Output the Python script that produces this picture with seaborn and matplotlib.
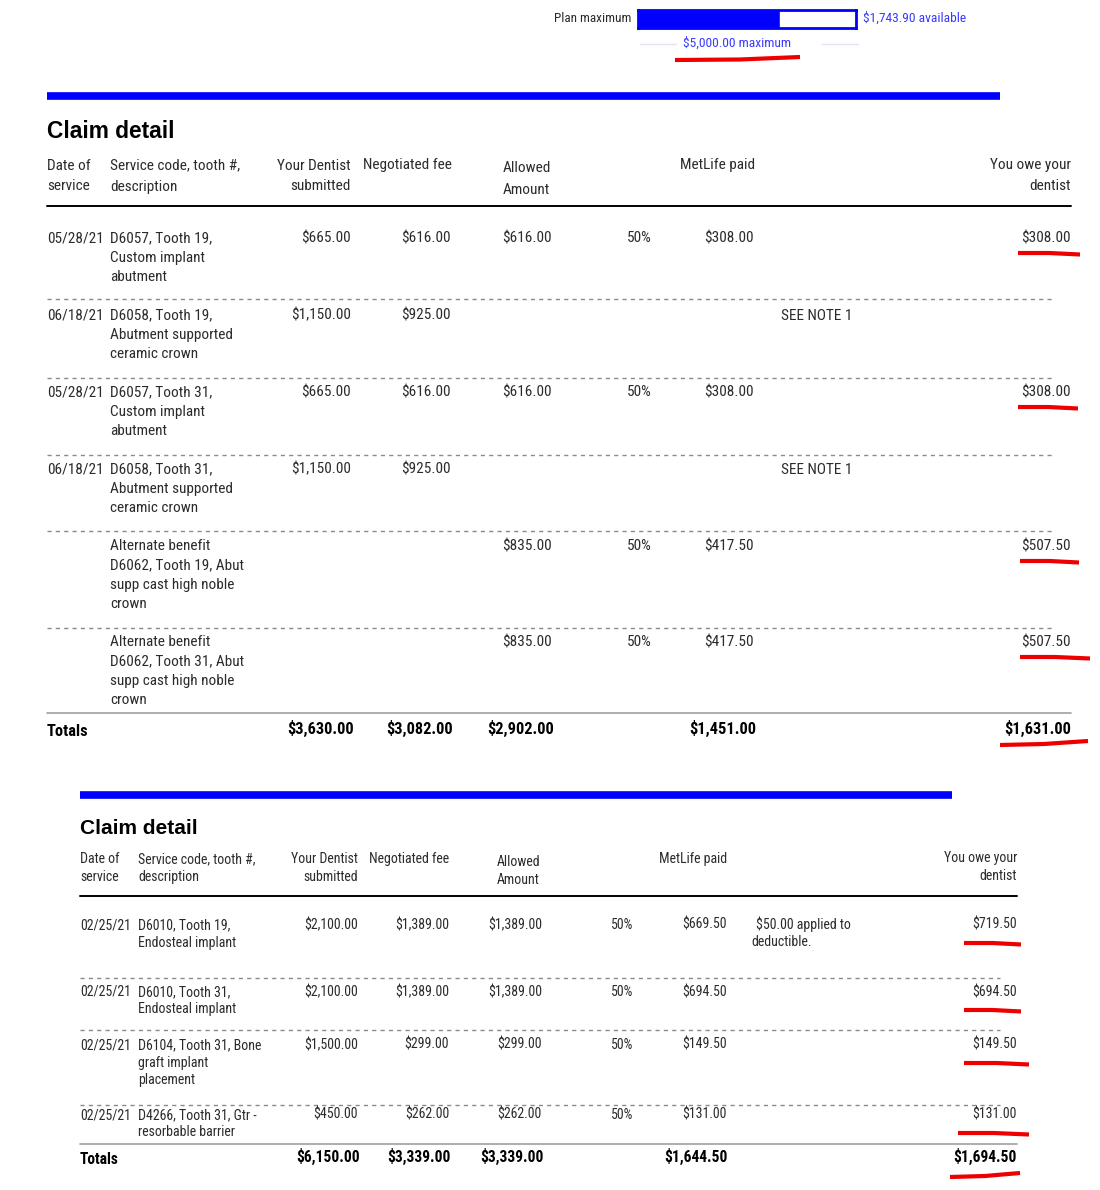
import matplotlib
matplotlib.use("Agg")
import matplotlib.pyplot as plt
import seaborn as sns

# plan maximum summary
plan_max = 5000.00
available = 1743.90

# first claim
dates1 = ["05/28/21", "06/18/21", "05/28/21", "06/18/21", "", ""]
desc1 = ["D6057, Tooth 19,\nCustom implant\nabutment",
         "D6058, Tooth 19,\nAbutment supported\nceramic crown",
         "D6057, Tooth 31,\nCustom implant\nabutment",
         "D6058, Tooth 31,\nAbutment supported\nceramic crown",
         "Alternate benefit\nD6062, Tooth 19, Abut\nsupp cast high noble\ncrown",
         "Alternate benefit\nD6062, Tooth 31, Abut\nsupp cast high noble\ncrown"]
submitted1 = [665.00, 1150.00, 665.00, 1150.00, None, None]
negotiated1 = [616.00, 925.00, 616.00, 925.00, None, None]
allowed1 = [616.00, None, 616.00, None, 835.00, 835.00]
pct1 = [50, None, 50, None, 50, 50]
paid1 = [308.00, None, 308.00, None, 417.50, 417.50]
notes1 = ["", "SEE NOTE 1", "", "SEE NOTE 1", "", ""]
owe1 = [308.00, None, 308.00, None, 507.50, 507.50]
totals1 = [3630.00, 3082.00, 2902.00, 1451.00, 1631.00]

# second claim
dates2 = ["02/25/21", "02/25/21", "02/25/21", "02/25/21"]
desc2 = ["D6010, Tooth 19,\nEndosteal implant",
         "D6010, Tooth 31,\nEndosteal implant",
         "D6104, Tooth 31, Bone\ngraft implant\nplacement",
         "D4266, Tooth 31, Gtr -\nresorbable barrier"]
submitted2 = [2100.00, 2100.00, 1500.00, 450.00]
negotiated2 = [1389.00, 1389.00, 299.00, 262.00]
allowed2 = [1389.00, 1389.00, 299.00, 262.00]
pct2 = [50, 50, 50, 50]
paid2 = [669.50, 694.50, 149.50, 131.00]
notes2 = ["$50.00 applied to\ndeductible.", "", "", ""]
owe2 = [719.50, 694.50, 149.50, 131.00]
totals2 = [6150.00, 3339.00, 3339.00, 1644.50, 1694.50]

headers = ["Date of\nservice", "Service code, tooth #,\ndescription",
           "Your Dentist\nsubmitted", "Negotiated fee", "Allowed\nAmount",
           "MetLife paid", "You owe your\ndentist"]

BLUE = "#0000ff"
TXT = "#2b2b2b"
GRAY = "#8a8a8a"

sns.set_theme(style="white")
plt.rcParams["font.family"] = ["Roboto Condensed", "Liberation Sans Narrow",
                               "Roboto", "DejaVu Sans"]

fig = plt.figure(figsize=(11, 11.9), dpi=100)
ax = fig.add_axes([0, 0, 1, 1])
ax.set_xlim(0, 1100)
ax.set_ylim(1190, 0)
ax.axis("off")


def money(v):
    return "" if v is None else f"${v:,.2f}"


# plan maximum progress bar drawn with seaborn
W, H = 1100, 1190
bx0, bx1, by0, by1 = 638, 856, 10, 28
bar_ax = fig.add_axes([bx0 / W, 1 - by1 / H, (bx1 - bx0) / W, (by1 - by0) / H])
sns.barplot(x=[plan_max - available], y=["used"], orient="h", color=BLUE,
            saturation=1, width=1, ax=bar_ax)
bar_ax.set_xlim(0, plan_max)
bar_ax.set_xticks([])
bar_ax.set_yticks([])
bar_ax.set_xlabel("")
bar_ax.set_ylabel("")
for s in bar_ax.spines.values():
    s.set_visible(True)
    s.set_color(BLUE)
    s.set_linewidth(2)

ax.text(631, 18, "Plan maximum", ha="right", va="center", fontsize=9.5, color=TXT)
ax.text(863, 18, f"${available:,.2f} available", ha="left", va="center",
        fontsize=9.7, color="#3a3aff")
ax.plot([640, 676], [44, 44], color="#e4e4f4", lw=1)
ax.plot([822, 858], [44, 44], color="#e4e4f4", lw=1)
ax.text(737, 43, f"${plan_max:,.2f} maximum", ha="center", va="center",
        fontsize=9.7, color="#3a3aff")
ax.plot([675, 740, 800], [60, 59.5, 57], color="#ee0000", lw=3, solid_capstyle="butt")


def draw_table(L, dates, desc, sub, neg, allw, pct, paid, notes, owe, totals):
    fs, ls, tfs = L["fs"], L["ls"], L["tot_fs"]
    # baseline offset: half the cap height in pixels
    b = fs * 100 / 72 * 0.36

    def put(x, y, s, ha="left", **kw):
        ax.text(x, y + b, s, ha=ha, va="baseline", fontsize=kw.pop("size", fs),
                color=kw.pop("color", TXT), **kw)

    ax.plot([L["rule"][0], L["rule"][1]], [L["rule_y"]] * 2, color=BLUE, lw=5.5,
            solid_capstyle="butt")
    ax.text(L["x_date"], L["title_y"], "Claim detail", fontsize=L["title_fs"],
            fontweight="bold", color="black", va="center", ha="left",
            family=["Liberation Sans", "DejaVu Sans"])

    # header
    hy = L["head_y"]
    hl = L["head_ls"]
    hpos = [(L["x_date"], "left", 0), (L["x_desc"], "left", 0),
            (L["r_sub"], "right", 0), (L["x_neg_h"], "left", 0),
            (L["x_allow_h"], "left", 3), (L["x_paid_h"], "left", 0),
            (L["r_owe"], "right", -1)]
    for text, (x, ha, dy) in zip(headers, hpos):
        for i, line in enumerate(text.split("\n")):
            put(x, hy + dy + i * hl, line, ha=ha)
    ax.plot([L["x_date"], L["r_owe"]], [L["head_line"]] * 2, color="black", lw=1.4)

    # rows
    for r in range(len(desc)):
        y = L["rows"][r]
        put(L["x_date"], y, dates[r])
        for i, line in enumerate(desc[r].split("\n")):
            put(L["x_desc"], y + i * ls, line)
        for val, x in [(sub[r], L["r_sub"]), (neg[r], L["r_neg"]),
                       (allw[r], L["r_allow"]), (paid[r], L["r_paid"]),
                       (owe[r], L["r_owe"])]:
            put(x, y, money(val), ha="right")
        if pct[r] is not None:
            put(L["r_pct"], y, f"{pct[r]}%", ha="right")
        for i, line in enumerate(notes[r].split("\n")):
            put(L["x_note"] - (5 if i else 0) * L["note_shift"], y + i * ls, line)
        if owe[r] is not None:
            ux0, ux1 = L["ul"][r]
            uy = y + L["ul_dy"]
            ax.plot([ux0, (ux0 + ux1) / 2, ux1], [uy, uy, uy + 1.5], color="#ee0000",
                    lw=3, solid_capstyle="butt")
        if r < len(desc) - 1:
            ax.plot([L["x_date"], L["dash_end"]], [L["seps"][r]] * 2, color=GRAY,
                    lw=1, linestyle=(0, (3, 3)))

    # totals
    ax.plot([L["x_date"], L["r_owe"]], [L["tot_line"]] * 2, color="#a0a0a0", lw=1.2)
    ty = L["tot_y"]
    put(L["x_date"], ty + 2, "Totals", size=tfs, fontweight="bold", color="black")
    for val, x in zip(totals, L["tot_x"]):
        put(x, ty, money(val), ha="right", size=tfs, fontweight="bold", color="black")
    ux0, ux1 = L["tot_ul"]
    uy = ty + L["ul_dy"]
    ax.plot([ux0, (ux0 + ux1) / 2, ux1], [uy + 1, uy, uy - 3], color="#ee0000", lw=3,
            solid_capstyle="butt")


layout1 = dict(fs=11, tot_fs=11.8, ls=19.2, title_fs=16.4, rule=(47, 1000), rule_y=96,
               title_y=132, head_y=164, head_ls=21, head_line=206,
               x_date=47, x_desc=110, r_sub=351, x_neg_h=363, r_neg=451,
               x_allow_h=503, r_allow=552, r_pct=652, x_paid_h=680, r_paid=754,
               x_note=781, note_shift=0, r_owe=1071,
               rows=[237, 314, 391, 468, 545, 641], seps=[299, 378, 455, 531, 628],
               dash_end=1052, tot_line=713, tot_y=728,
               tot_x=[354, 453, 554, 756, 1071],
               ul=[(1018, 1080), None, (1018, 1078), None, (1020, 1079), (1020, 1090)],
               ul_dy=16, tot_ul=(1000, 1088))

layout2 = dict(fs=10, tot_fs=11.2, ls=17.5, title_fs=15, rule=(80, 952), rule_y=795,
               title_y=828, head_y=858, head_ls=18, head_line=896,
               x_date=80, x_desc=138, r_sub=358, x_neg_h=369, r_neg=449,
               x_allow_h=497, r_allow=542, r_pct=633, x_paid_h=659, r_paid=727,
               x_note=756, note_shift=1, r_owe=1017,
               rows=[924, 991, 1044, 1114], seps=[978, 1030, 1105],
               dash_end=1000, tot_line=1144, tot_y=1157,
               tot_x=[360, 451, 544, 728, 1017],
               ul=[(964, 1021), (964, 1021), (964, 1029), (958, 1029)],
               ul_dy=19, tot_ul=(950, 1020))

draw_table(layout1, dates1, desc1, submitted1, negotiated1, allowed1, pct1, paid1,
           notes1, owe1, totals1)
draw_table(layout2, dates2, desc2, submitted2, negotiated2, allowed2, pct2, paid2,
           notes2, owe2, totals2)

fig.savefig("out.png", dpi=100, facecolor="white")
